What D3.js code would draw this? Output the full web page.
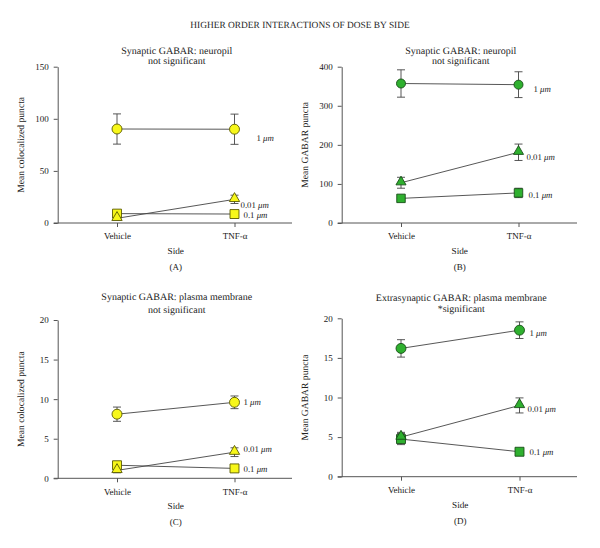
<!DOCTYPE html>
<html><head><meta charset="utf-8">
<script src="https://cdn.jsdelivr.net/npm/d3@7"></script>
<style>
body{margin:0;background:#fff;}
svg text, svg tspan{font-family:"Liberation Serif","DejaVu Serif",serif;fill:#222;}
svg{text-rendering:geometricPrecision;-webkit-font-smoothing:antialiased;}
</style></head>
<body><svg id="c" width="600" height="548"></svg>
<script>
// ---- data ----
const mainTitle = "HIGHER ORDER INTERACTIONS OF DOSE BY SIDE";
const categories = ["Vehicle", "TNF-α"];
const doseNumbers = ["1", "0.01", "0.1"];
const doseUnit = "μm";
const xTitle = "Side";

const titleA = ["Synaptic GABAR: neuropil", "not significant"];
const ticksA = [0, 50, 100, 150];
const meanA_1um = [90.2, 90.0];   const errA_1um = [14.5, 14.5];
const meanA_001 = [4.5, 22.7];    const errA_001 = [1.5, 4.0];
const meanA_01  = [9.0, 8.6];     const errA_01  = [1.5, 1.5];

const titleB = ["Synaptic GABAR: neuropil", "not significant"];
const ticksB = [0, 100, 200, 300, 400];
const meanB_1um = [357, 354];     const errB_1um = [35, 33];
const meanB_001 = [103, 181];     const errB_001 = [14, 21];
const meanB_01  = [63, 77];       const errB_01  = [5, 12];

const titleC = ["Synaptic GABAR: plasma membrane", "not significant"];
const ticksC = [0, 5, 10, 15, 20];
const meanC_1um = [8.1, 9.6];     const errC_1um = [0.9, 0.8];
const meanC_001 = [1.0, 3.3];     const errC_001 = [0.3, 0.55];
const meanC_01  = [1.65, 1.25];   const errC_01  = [0.3, 0.2];

const titleD = ["Extrasynaptic GABAR: plasma membrane", "*significant"];
const ticksD = [0, 5, 10, 15, 20];
const meanD_1um = [16.2, 18.5];   const errD_1um = [1.1, 1.05];
const meanD_001 = [5.0, 9.0];     const errD_001 = [0.6, 0.95];
const meanD_01  = [4.75, 3.15];   const errD_01  = [0.7, 0.3];

const yTitles = ["Mean colocalized puncta", "Mean GABAR puncta", "Mean colocalized puncta", "Mean GABAR puncta"];
const panelLetters = ["(A)", "(B)", "(C)", "(D)"];

// ---- layout / style ----
const layouts = [
  {ax:57.7, axEnd:292, p0:117, p1:234.5, top:66.7, bot:223, t1:53.5, t2:63.5, fill:"#f7f71a", stroke:"#5a5a00"},
  {ax:341.7, axEnd:577, p0:401, p1:518.5, top:66.7, bot:223, t1:54, t2:64, fill:"#2fb02f", stroke:"#174d17"},
  {ax:57.7, axEnd:292, p0:117, p1:234.5, top:320, bot:478.3, t1:300, t2:313, fill:"#f7f71a", stroke:"#5a5a00"},
  {ax:341.7, axEnd:577, p0:401, p1:519.5, top:318.3, bot:476.7, t1:300.5, t2:311.5, fill:"#2fb02f", stroke:"#174d17"}
];
const labelOffsets = [
  [[22, 9], [6, 6], [9, 1]],
  [[15, 4], [8, 5], [10, 2]],
  [[9, 0], [9, -3], [9, 1]],
  [[10, 3], [8, 4], [10, 0]]
];
const axisColor = "#555";

const svg = d3.select("#c");
svg.append("text").attr("x", 300).attr("y", 28).attr("text-anchor", "middle")
  .attr("font-size", 9.4).text(mainTitle);

const panels = [
  {title:titleA, ticks:ticksA, means:[meanA_1um, meanA_001, meanA_01], errs:[errA_1um, errA_001, errA_01]},
  {title:titleB, ticks:ticksB, means:[meanB_1um, meanB_001, meanB_01], errs:[errB_1um, errB_001, errB_01]},
  {title:titleC, ticks:ticksC, means:[meanC_1um, meanC_001, meanC_01], errs:[errC_1um, errC_001, errC_01]},
  {title:titleD, ticks:ticksD, means:[meanD_1um, meanD_001, meanD_01], errs:[errD_1um, errD_001, errD_01]}
];
const symbols = [d3.symbolCircle, d3.symbolTriangle, d3.symbolSquare];
const symSizes = [[78, 64, 78, 78], [46, 44, 46, 46], [80, 72, 80, 80]];

panels.forEach((p, i) => {
  const L = layouts[i];
  const g = svg.append("g");
  const x = d3.scalePoint().domain(categories).range([L.p0, L.p1]);
  const y = d3.scaleLinear().domain([0, p.ticks[p.ticks.length - 1]]).range([L.bot, L.top]);

  [L.t1, L.t2].forEach((ty, k) => {
    g.append("text").attr("x", (L.p0 + L.p1) / 2 + 1).attr("y", ty)
      .attr("text-anchor", "middle").attr("font-size", 10).text(p.title[k]);
  });

  const ya = g.append("g").attr("transform", `translate(${L.ax},0)`)
    .call(d3.axisLeft(y).tickValues(p.ticks).tickSize(4).tickSizeOuter(0).tickPadding(5));
  ya.selectAll("path,line").attr("stroke", axisColor);
  ya.selectAll("text").attr("font-size", 9).attr("font-family", "Liberation Serif").attr("fill", "#222");

  g.append("line").attr("x1", L.ax - 4).attr("x2", L.axEnd).attr("y1", L.bot).attr("y2", L.bot)
    .attr("stroke", axisColor);
  const xa = g.append("g").attr("transform", `translate(0,${L.bot})`)
    .call(d3.axisBottom(x).tickSize(4).tickSizeOuter(0).tickPadding(6));
  xa.select(".domain").remove();
  xa.selectAll("line").attr("stroke", axisColor);
  xa.selectAll("text").attr("font-size", 9).attr("font-family", "Liberation Serif").attr("fill", "#222");

  g.append("text").attr("x", (L.p0 + L.p1) / 2).attr("y", L.bot + 31)
    .attr("text-anchor", "middle").attr("font-size", 9.2).text(xTitle);
  g.append("text").attr("transform", `translate(${L.ax - 34},${(L.top + L.bot) / 2}) rotate(-90)`)
    .attr("text-anchor", "middle").attr("font-size", 9.6).text(yTitles[i]);
  g.append("text").attr("x", (L.p0 + L.p1) / 2).attr("y", L.bot + 47)
    .attr("text-anchor", "middle").attr("font-size", 9).text(panelLetters[i]);

  const order = [2, 1, 0];
  order.forEach(s => {
    const m = p.means[s], e = p.errs[s];
    const pts = categories.map((c, j) => ({c, v: m[j], e: e[j]}));
    g.append("path").datum(pts)
      .attr("d", d3.line().x(d => x(d.c)).y(d => y(d.v)))
      .attr("fill", "none").attr("stroke", "#444").attr("stroke-width", 0.9);
    pts.forEach(d => {
      const X = x(d.c);
      g.append("line").attr("x1", X).attr("x2", X).attr("y1", y(d.v + d.e)).attr("y2", y(d.v - d.e))
        .attr("stroke", "#444").attr("stroke-width", 0.9);
      [d.v + d.e, d.v - d.e].forEach(v => {
        g.append("line").attr("x1", X - 4).attr("x2", X + 4).attr("y1", y(v)).attr("y2", y(v))
          .attr("stroke", "#444").attr("stroke-width", 0.9);
      });
    });
  });
  order.forEach(s => {
    const m = p.means[s];
    categories.forEach((c, j) => {
      const dy = s === 1 ? -0.8 : 0;
      g.append("path")
        .attr("d", d3.symbol().type(symbols[s]).size(symSizes[s][i])())
        .attr("transform", `translate(${x(c)},${y(m[j]) + dy})`)
        .attr("fill", L.fill).attr("stroke", L.stroke).attr("stroke-width", 0.9);
    });
    const off = labelOffsets[i][s];
    const t = g.append("text").attr("x", x(categories[1]) + off[0]).attr("y", y(m[1]) + off[1] + 3)
      .attr("font-size", 8.8);
    t.append("tspan").attr("style", "fill:#222").text(doseNumbers[s] + " ");
    t.append("tspan").attr("style", "fill:#222;font-style:italic;font-family:'Liberation Serif'").text(doseUnit);
  });
});
</script></body></html>
